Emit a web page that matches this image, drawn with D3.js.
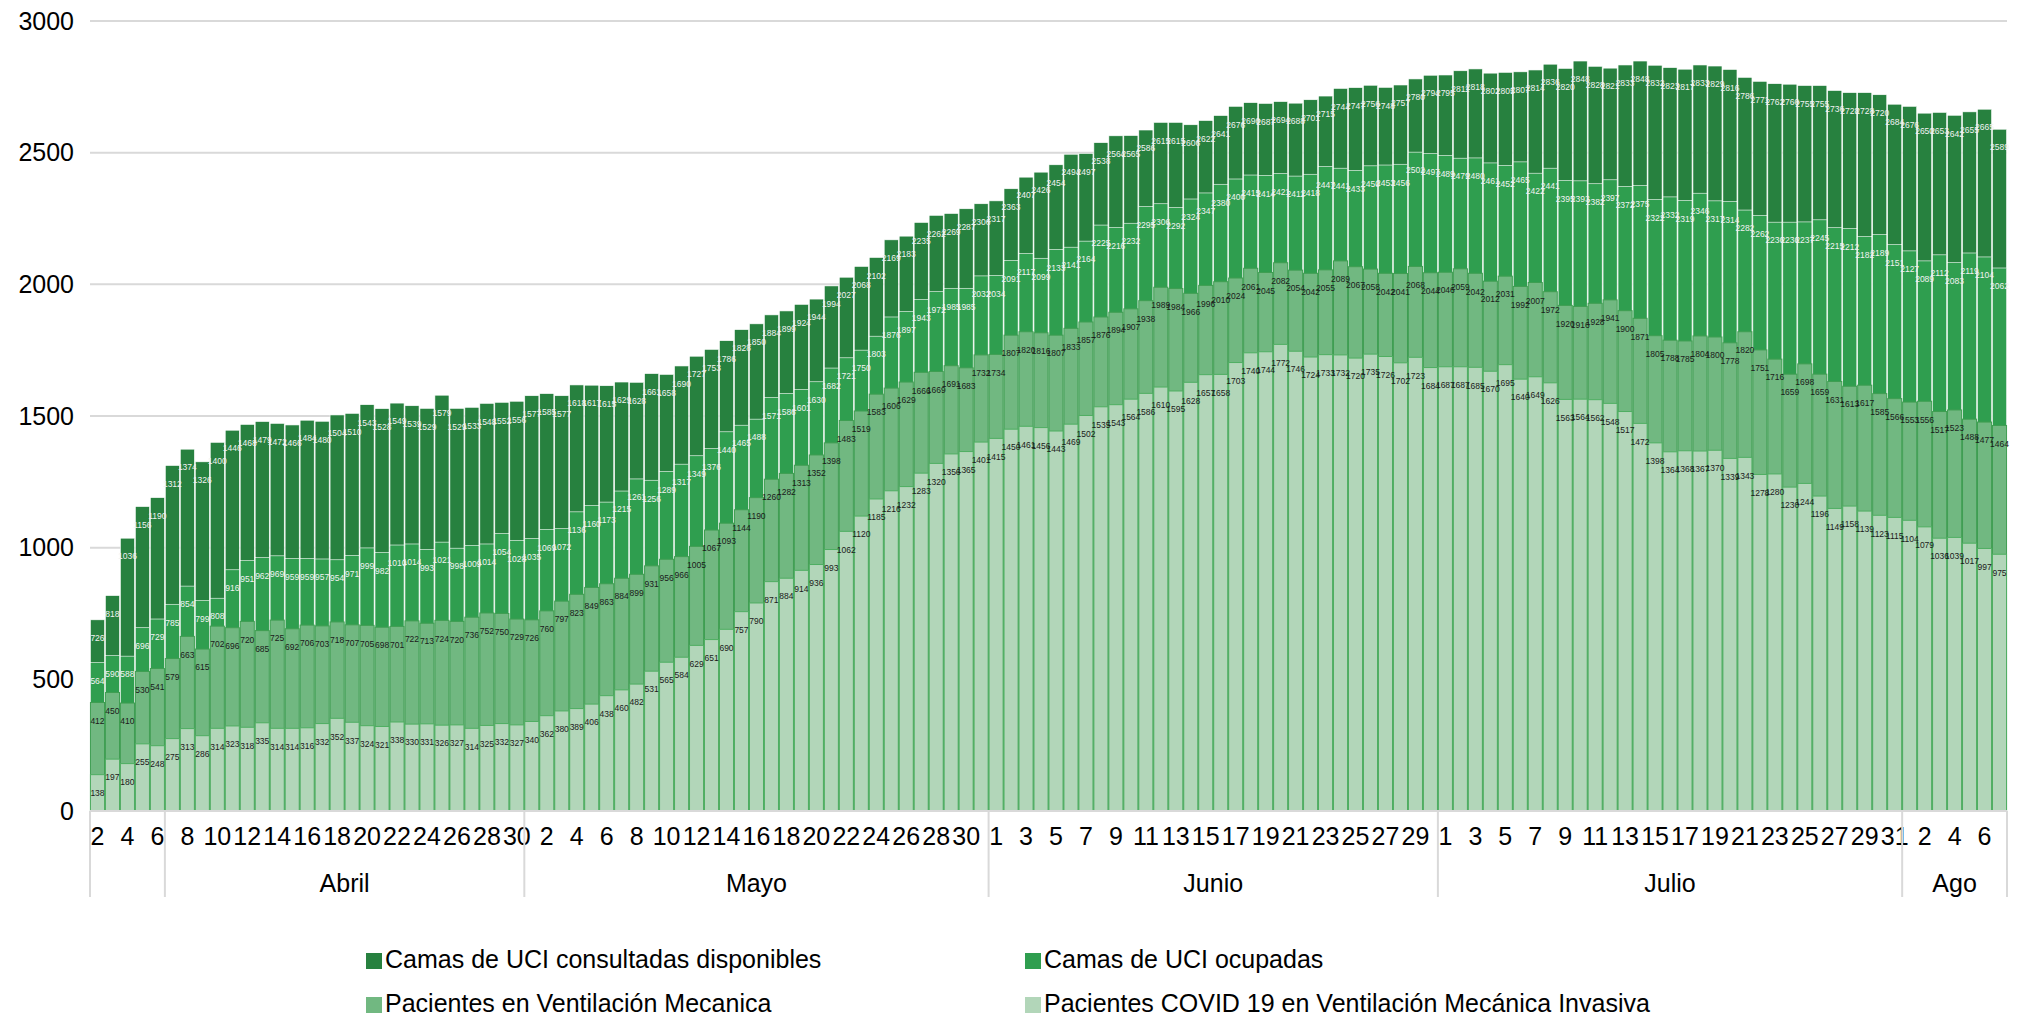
<!DOCTYPE html>
<html>
<head>
<meta charset="utf-8">
<style>
  body { margin: 0; background: #fff; font-family: "Liberation Sans", Arial, sans-serif; }
  svg text { font-family: "Liberation Sans", Arial, sans-serif; }
</style>
<title>Camas UCI</title>
</head>
<body>
<script src="https://cdn.jsdelivr.net/npm/d3@7"></script>
<script>

// ---- data ----
var days = [2,3,4,5,6,
  7,8,9,10,11,12,13,14,15,16,17,18,19,20,21,22,23,24,25,26,27,28,29,30,
  1,2,3,4,5,6,7,8,9,10,11,12,13,14,15,16,17,18,19,20,21,22,23,24,25,26,27,28,29,30,31,
  1,2,3,4,5,6,7,8,9,10,11,12,13,14,15,16,17,18,19,20,21,22,23,24,25,26,27,28,29,30,
  1,2,3,4,5,6,7,8,9,10,11,12,13,14,15,16,17,18,19,20,21,22,23,24,25,26,27,28,29,30,31,
  1,2,3,4,5,6,7];

var groupNames = ["", "Abril", "Mayo", "Junio", "Julio", "Ago"];
var groupSizes = [5, 24, 31, 30, 31, 7];

var seriesNames = [
  "Camas de UCI consultadas disponibles",
  "Camas de UCI ocupadas",
  "Pacientes en Ventilación Mecanica",
  "Pacientes COVID 19 en Ventilación Mecánica Invasiva"
];

var disponibles = [726,818,1036,1156,1190,1312,1374,1326,1400,1446,1468,1479,1472,1466,1484,1480,1504,1510,1543,1528,1549,1539,
  1529,1579,1529,1533,1548,1552,1556,1577,1585,1577,1618,1617,1615,1629,1628,1661,1658,1690,1727,1753,1786,
  1828,1850,1884,1899,1924,1944,1994,2027,2068,2102,2169,2183,2235,2262,2269,2287,2306,2317,2363,2407,2426,
  2454,2494,2497,2538,2564,2565,2586,2615,2615,2606,2622,2641,2676,2690,2687,2694,2688,2701,2715,2744,2747,2756,
  2748,2757,2780,2794,2795,2811,2818,2802,2805,2807,2814,2836,2820,2848,2828,2821,2833,2848,2832,2823,2817,
  2833,2829,2816,2786,2771,2762,2760,2755,2755,2736,2728,2728,2720,2684,2676,2650,2653,2642,2655,2665,2589];

var ocupadas = [564,590,588,696,729,785,854,799,808,916,951,962,969,959,959,957,954,971,999,982,1010,1014,
  993,1021,998,1009,1014,1054,1028,1035,1069,1072,1136,1160,1173,1215,1261,1256,1289,1317,1349,1376,1440,
  1465,1488,1571,1586,1601,1630,1682,1721,1750,1803,1876,1897,1943,1972,1985,1985,2032,2034,2091,2117,2099,
  2133,2141,2164,2225,2216,2232,2295,2306,2292,2324,2347,2380,2400,2415,2414,2421,2411,2418,2447,2441,2433,2450,
  2453,2456,2502,2497,2489,2479,2480,2461,2452,2465,2422,2441,2395,2393,2382,2397,2372,2375,2322,2332,2319,
  2346,2317,2314,2282,2262,2236,2236,2237,2245,2215,2212,2182,2189,2151,2127,2089,2112,2083,2119,2104,2062];

var ventilacion = [412,450,410,530,541,579,663,615,702,696,720,685,725,692,706,703,718,707,705,698,701,722,
  713,724,720,736,752,750,729,726,760,797,823,849,863,884,899,931,956,966,1005,1067,1093,
  1144,1190,1260,1282,1313,1352,1398,1483,1519,1583,1606,1629,1666,1669,1691,1683,1732,1734,1807,1820,1816,
  1807,1833,1857,1876,1894,1907,1938,1989,1984,1966,1996,2010,2024,2061,2045,2082,2054,2042,2055,2089,2067,2058,
  2042,2041,2068,2044,2046,2059,2042,2012,2031,1992,2007,1972,1920,1916,1928,1941,1900,1871,1805,1788,1785,
  1804,1800,1778,1820,1751,1716,1659,1698,1659,1631,1613,1617,1585,1566,1553,1556,1517,1523,1488,1477,1464];

var covid = [138,197,180,255,248,275,313,286,314,323,318,335,314,314,316,332,352,337,324,321,338,330,
  331,326,327,314,325,332,327,340,362,380,389,406,438,460,482,531,565,584,629,651,690,
  757,790,871,884,914,936,993,1062,1120,1185,1216,1232,1283,1320,1356,1365,1401,1415,1450,1461,1456,
  1443,1469,1502,1535,1543,1564,1586,1610,1595,1628,1657,1658,1703,1740,1744,1772,1746,1724,1733,1732,1720,1735,
  1726,1702,1723,1684,1687,1687,1685,1670,1695,1640,1649,1626,1563,1564,1562,1548,1517,1472,1398,1364,1368,
  1367,1370,1339,1343,1278,1280,1230,1244,1196,1149,1158,1139,1123,1115,1104,1079,1036,1039,1017,997,975];

var yTicks = [0, 500, 1000, 1500, 2000, 2500, 3000];

// ---- layout ----
var W = 2021, H = 1016;
var plot = {left: 90, right: 2007, top: 21, bottom: 811};
var colors = ["#27813f", "#2f9e4f", "#71b881", "#b2d6b9"];
var strokes = ["#ffffff", "#ffffff", "#3f9e52", "#4fae62"];
var labelFill = ["#f2f2f2", "#f2f2f2", "#1a1a1a", "#1a1a1a"];

var series = [disponibles, ocupadas, ventilacion, covid];
var idx = d3.range(days.length);

var svg = d3.select("body").append("svg")
  .attr("width", W).attr("height", H);

var x = d3.scaleBand()
  .domain(idx)
  .range([plot.left, plot.right])
  .paddingInner(0.06).paddingOuter(0.03);

var y = d3.scaleLinear()
  .domain([0, 3000])
  .range([plot.bottom, plot.top]);

// gridlines
svg.append("g")
  .selectAll("line")
  .data(yTicks.filter(function(d) { return d > 0; }))
  .enter().append("line")
  .attr("x1", plot.left).attr("x2", plot.right)
  .attr("y1", function(d) { return y(d); })
  .attr("y2", function(d) { return y(d); })
  .attr("stroke", "#d9d9d9").attr("stroke-width", 2);

// y axis labels
var yAxis = svg.append("g")
  .attr("transform", "translate(" + (plot.left - 16) + ",0)")
  .call(d3.axisLeft(y).tickValues(yTicks).tickFormat(d3.format("d")).tickSize(0).tickPadding(0));
yAxis.select(".domain").remove();
yAxis.selectAll("text")
  .attr("font-size", 25).attr("fill", "#000");

// bars, drawn back to front
series.forEach(function(vals, s) {
  svg.append("g")
    .selectAll("rect")
    .data(vals)
    .enter().append("rect")
    .attr("x", function(d, i) { return x(i); })
    .attr("width", x.bandwidth())
    .attr("y", function(d) { return y(d); })
    .attr("height", function(d) { return y(0) - y(d); })
    .attr("fill", colors[s])
    .attr("stroke", strokes[s])
    .attr("stroke-width", s < 2 ? 0.6 : 1);
});

// data labels
series.forEach(function(vals, s) {
  svg.append("g")
    .selectAll("text")
    .data(vals)
    .enter().append("text")
    .attr("x", function(d, i) { return x(i) + x.bandwidth() / 2; })
    .attr("y", function(d) { return y(d) + 19; })
    .attr("text-anchor", "middle")
    .attr("dominant-baseline", "middle")
    .attr("font-size", 8.5)
    .attr("fill", labelFill[s])
    .text(function(d) { return d; });
});

// x axis line
svg.append("line")
  .attr("x1", plot.left).attr("x2", plot.right)
  .attr("y1", y(0)).attr("y2", y(0))
  .attr("stroke", "#d9d9d9").attr("stroke-width", 2);

// day labels (every other category)
var xAxis = svg.append("g")
  .attr("transform", "translate(0," + y(0) + ")")
  .call(d3.axisBottom(x)
    .tickValues(idx.filter(function(i) { return i % 2 == 0; }))
    .tickFormat(function(i) { return days[i]; })
    .tickSize(0).tickPadding(16));
xAxis.select(".domain").remove();
xAxis.selectAll("text").attr("font-size", 25).attr("fill", "#000");

// month groups
var starts = [0];
groupSizes.forEach(function(n, g) { starts.push(starts[g] + n); });
var step = x.step();
function edge(i) { return i < days.length ? x(i) - step * x.paddingInner() / 2 : plot.right; }

svg.append("g")
  .selectAll("line")
  .data(starts)
  .enter().append("line")
  .attr("x1", function(i) { return i == 0 ? plot.left : edge(i); })
  .attr("x2", function(i) { return i == 0 ? plot.left : edge(i); })
  .attr("y1", y(0)).attr("y2", y(0) + 86)
  .attr("stroke", "#d9d9d9").attr("stroke-width", 2);

svg.append("g")
  .selectAll("text")
  .data(groupNames)
  .enter().append("text")
  .attr("x", function(d, g) {
    var a = g == 0 ? plot.left : edge(starts[g]);
    return (a + edge(starts[g + 1])) / 2;
  })
  .attr("y", y(0) + 81)
  .attr("text-anchor", "middle")
  .attr("font-size", 25)
  .text(function(d) { return d; });

// legend
var legendPos = [[366, 961], [1025, 961], [366, 1005], [1025, 1005]];
var leg = svg.append("g")
  .selectAll("g")
  .data(seriesNames)
  .enter().append("g")
  .attr("transform", function(d, i) { return "translate(" + legendPos[i][0] + "," + legendPos[i][1] + ")"; });
leg.append("rect")
  .attr("x", 0).attr("y", -8).attr("width", 16).attr("height", 16)
  .attr("fill", function(d, i) { return colors[i]; });
leg.append("text")
  .attr("x", 19).attr("y", 0)
  .attr("dominant-baseline", "middle")
  .attr("font-size", 25)
  .text(function(d) { return d; });

</script>
</body>
</html>
